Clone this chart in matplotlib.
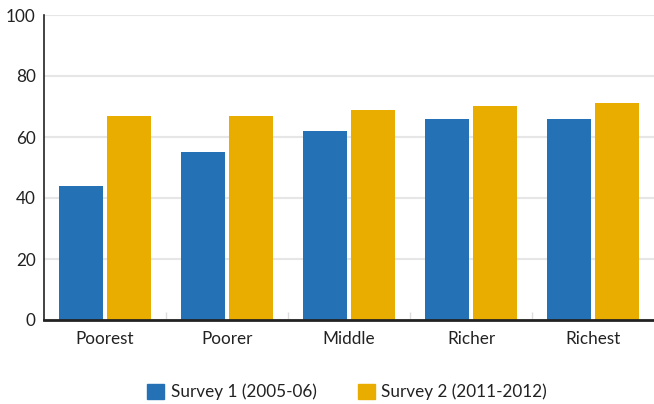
import matplotlib.pyplot as plt
import numpy as np
from matplotlib.patches import Patch

categories = ['Poorest', 'Poorer', 'Middle', 'Richer', 'Richest']
survey1 = [44, 55, 62, 66, 66]
survey2 = [67, 67, 69, 70, 71]
labels = ['Survey 1 (2005-06)', 'Survey 2 (2011-2012)']
colors = ['#2471b6', '#e9ad00']

plt.rcParams['font.family'] = ['Lato', 'DejaVu Sans']

fig = plt.figure(figsize=(6.54, 4.04), dpi=100)
ax = fig.add_axes([44/654, 1 - 320/404, 610/654, 305/404])

x = np.arange(len(categories))
w = 0.36
ax.bar(x - 0.2, survey1, w, color=colors[0], zorder=3)
ax.bar(x + 0.2, survey2, w, color=colors[1], zorder=3)

ax.set_xlim(-0.5, len(categories) - 0.5)
ax.set_ylim(0, 100)
ax.set_yticks(range(0, 101, 20))
ax.set_xticks(x)
ax.set_xticklabels(categories)
ax.set_xticks(np.arange(0.5, len(categories) - 0.5), minor=True)
ax.tick_params(axis='x', which='major', length=0, pad=8, labelsize=12.3, labelcolor='#222222')
ax.tick_params(axis='x', which='minor', length=6, direction='in', color='#dddddd', width=1)
ax.tick_params(axis='y', length=0, pad=6, labelsize=12.3, labelcolor='#222222')
ax.grid(axis='y', color='#e6e6e6', linewidth=1.5, zorder=0)

for s in ['top', 'right']:
    ax.spines[s].set_visible(False)
ax.spines['left'].set_color('#222222')
ax.spines['left'].set_linewidth(1.2)
ax.spines['bottom'].set_color('#222222')
ax.spines['bottom'].set_linewidth(2)
ax.spines['bottom'].set_zorder(4)

handles = [Patch(color=c, label=l) for c, l in zip(colors, labels)]
fig.legend(handles=handles, loc='center', bbox_to_anchor=(347/654, 1 - 392/404), ncol=2,
           frameon=False, fontsize=12.3, handlelength=1.0, handleheight=1.0,
           handletextpad=0.4, columnspacing=2.4, labelcolor='#222222')

fig.savefig('out.png', dpi=100)
